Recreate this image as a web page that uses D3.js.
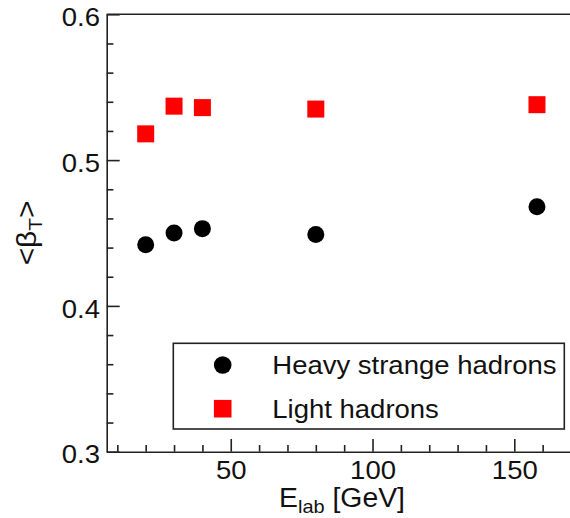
<!DOCTYPE html>
<html>
<head>
<meta charset="utf-8">
<script src="https://cdn.jsdelivr.net/npm/d3@7"></script>
<style>
  body { margin: 0; background: #fff; }
  svg { display: block; font-family: "Liberation Sans", Arial, Helvetica, sans-serif; }
</style>
</head>
<body>
<div id="container"></div>
<script>
/* DATA */
const energies = [20, 30, 40, 80, 158];                    // E_lab [GeV]
const heavyStrange = [0.442, 0.450, 0.453, 0.449, 0.468];  // <beta_T>
const lightHadrons = [0.518, 0.537, 0.536, 0.535, 0.538];
const seriesNames = ["Heavy strange hadrons", "Light hadrons"];
const xMajorTicks = [50, 100, 150];
const xMinorTicks = [10, 20, 30, 40, 60, 70, 80, 90, 110, 120, 130, 140, 160];
const yMajorTicks = [0.3, 0.4, 0.5, 0.6];
const yTickLabels = ["0.3", "0.4", "0.5", "0.6"];

/* CONSTANTS */
const width = 570, height = 518;
const margin = {top: 14.3, right: -1, bottom: 66.3, left: 106.7};
const stretch = 1.1;   // glyphs in the original are a bit wide

const svg = d3.select("#container")
  .append("svg")
  .attr("width", width)
  .attr("height", height);

/* SCALES */
const xScale = d3.scaleLinear()
  .domain([6.25, 170])
  .range([margin.left, width - margin.right]);

const yScale = d3.scaleLinear()
  .domain([0.3, 0.6])
  .range([height - margin.bottom, margin.top]);

const yMinorTicks = d3.range(0.32, 0.6, 0.02).filter(v => Math.abs(v * 10 - Math.round(v * 10)) > 1e-6);

/* AXES */
const axisColor = "#222";

// y minor
svg.append("g")
  .attr("transform", `translate(${margin.left},0)`)
  .call(d3.axisLeft(yScale).tickValues(yMinorTicks).tickSize(-6.7).tickSizeOuter(0).tickFormat(""))
  .call(g => g.select(".domain").remove());

// y major
const yAxis = svg.append("g")
  .attr("transform", `translate(${margin.left},0)`)
  .call(d3.axisLeft(yScale)
    .tickValues(yMajorTicks)
    .tickSize(-13)
    .tickSizeOuter(0)
    .tickPadding(6.7)
    .tickFormat((d, i) => yTickLabels[i]));

yAxis.selectAll("text")
  .attr("font-size", 25)
  .attr("fill", "#111")
  .attr("x", -6.7 / stretch)
  .attr("dy", "0.45em")
  .attr("transform", `scale(${stretch},1)`);

// x minor
svg.append("g")
  .attr("transform", `translate(0,${yScale(0.3)})`)
  .call(d3.axisBottom(xScale).tickValues(xMinorTicks).tickSize(-6.7).tickSizeOuter(0).tickFormat(""))
  .call(g => g.select(".domain").remove());

// x major
const xAxis = svg.append("g")
  .attr("transform", `translate(0,${yScale(0.3)})`)
  .call(d3.axisBottom(xScale)
    .tickValues(xMajorTicks)
    .tickSize(-12.7)
    .tickSizeOuter(0)
    .tickPadding(9.3));

xAxis.selectAll("text")
  .attr("font-size", 25)
  .attr("fill", "#111")
  .attr("transform", `scale(${stretch},1)`);

svg.selectAll(".domain, .tick line")
  .attr("stroke", axisColor)
  .attr("stroke-width", 1.6);

// top frame line
svg.append("line")
  .attr("x1", margin.left).attr("x2", width)
  .attr("y1", yScale(0.6)).attr("y2", yScale(0.6))
  .attr("stroke", axisColor)
  .attr("stroke-width", 1.6);

/* AXIS TITLES */
const xTitle = svg.append("text")
  .attr("transform", `translate(342,507) scale(1.05,1)`)
  .attr("text-anchor", "middle")
  .attr("font-size", 27)
  .attr("fill", "#111");
xTitle.append("tspan").text("E");
xTitle.append("tspan").attr("font-size", 19).attr("dy", 6).text("lab");
xTitle.append("tspan").attr("dy", -6).text(" [GeV]");

const yTitle = svg.append("text")
  .attr("transform", `translate(36,233) rotate(-90) scale(${stretch},1)`)
  .attr("text-anchor", "middle")
  .attr("font-size", 27)
  .attr("fill", "#111");
yTitle.append("tspan").text("<β");
yTitle.append("tspan").attr("font-size", 19).attr("dy", 6).text("T");
yTitle.append("tspan").attr("dy", -6).text(">");

/* MARKS */
const squareSide = 17;

svg.selectAll("circle.heavy")
  .data(energies.map((e, i) => ({e, v: heavyStrange[i]})))
  .join("circle")
  .attr("class", "heavy")
  .attr("cx", d => xScale(d.e))
  .attr("cy", d => yScale(d.v))
  .attr("r", 8.5)
  .attr("fill", "#000");

svg.selectAll("rect.light")
  .data(energies.map((e, i) => ({e, v: lightHadrons[i]})))
  .join("rect")
  .attr("class", "light")
  .attr("x", d => xScale(d.e) - squareSide / 2)
  .attr("y", d => yScale(d.v) - squareSide / 2)
  .attr("width", squareSide)
  .attr("height", squareSide)
  .attr("fill", "#ff0000");

/* LEGEND */
const legend = svg.append("g");
legend.append("rect")
  .attr("x", 173.3).attr("y", 343.3)
  .attr("width", 391).attr("height", 85.7)
  .attr("fill", "#fff")
  .attr("stroke", axisColor)
  .attr("stroke-width", 1.6);

const rowY = [365, 408.7];
legend.append("circle")
  .attr("cx", 222.7).attr("cy", rowY[0]).attr("r", 8.8).attr("fill", "#000");
legend.append("rect")
  .attr("x", 222.7 - 8.8).attr("y", rowY[1] - 8.8)
  .attr("width", 17.6).attr("height", 17.6).attr("fill", "#ff0000");

legend.selectAll("text.entry")
  .data(seriesNames)
  .join("text")
  .attr("class", "entry")
  .attr("transform", (d, i) => `translate(272.3,${rowY[i] + 9.2}) scale(${stretch},1)`)
  .attr("font-size", 25)
  .attr("fill", "#111")
  .text(d => d);
</script>
</body>
</html>
